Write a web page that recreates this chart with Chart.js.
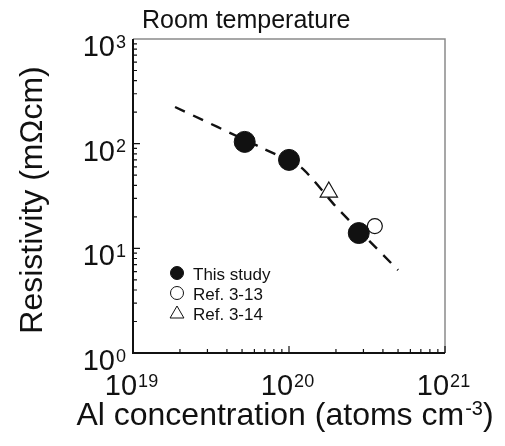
<!DOCTYPE html>
<html>
<head>
<meta charset="utf-8">
<script src="https://cdn.jsdelivr.net/npm/chart.js@4/dist/chart.umd.min.js"></script>
<style>
  html, body { margin: 0; padding: 0; background: #fff; }
  canvas { display: block; }
</style>
</head>
<body>
<canvas id="chart" width="505" height="446"></canvas>
<script>
// Resistivity vs Al concentration, room temperature
const studyX = [5.2e19, 1.0e20, 2.8e20];
const studyY = [104, 70, 14];
const ref13X = [3.55e20];
const ref13Y = [16.3];
const ref14X = [1.8e20];
const ref14Y = [34.5];
const fitX = [1.86e19, 6.5e19, 1.2e20, 2.0e20, 5.0e20];
const fitY = [224, 93, 59, 25, 6.2];

const xDecades = [19, 20, 21];
const yDecades = [0, 1, 2, 3];

const FONT = "'Liberation Sans', Arial, sans-serif";

function pts(xs, ys) {
  return xs.map((x, i) => ({ x, y: ys[i] }));
}

// superscript label: base "10" then exponent
function drawPow(ctx, exp, x, y, align, size, supSize) {
  ctx.font = `${size}px ${FONT}`;
  const wb = ctx.measureText("10").width;
  ctx.font = `${supSize}px ${FONT}`;
  const ws = ctx.measureText(String(exp)).width;
  let x0 = x;
  if (align === "center") x0 = x - (wb + ws) / 2;
  if (align === "right") x0 = x - (wb + ws);
  ctx.textAlign = "left";
  ctx.textBaseline = "alphabetic";
  ctx.font = `${size}px ${FONT}`;
  ctx.fillText("10", x0, y);
  ctx.font = `${supSize}px ${FONT}`;
  ctx.fillText(String(exp), x0 + wb + 1, y - size * 0.29);
}

const axesPlugin = {
  id: "axesPlugin",
  beforeDatasetsDraw(chart) {
    const { ctx, chartArea: a, scales } = chart;
    ctx.save();
    // top and right frame
    ctx.strokeStyle = "#8a8a8a";
    ctx.lineWidth = 1.5;
    ctx.beginPath();
    ctx.moveTo(a.left, a.top);
    ctx.lineTo(a.right, a.top);
    ctx.lineTo(a.right, a.bottom);
    ctx.stroke();
    // left and bottom axes
    ctx.strokeStyle = "#111";
    ctx.lineWidth = 2;
    ctx.beginPath();
    ctx.moveTo(a.left, a.top);
    ctx.lineTo(a.left, a.bottom);
    ctx.lineTo(a.right, a.bottom);
    ctx.stroke();

    // inward ticks
    ctx.lineWidth = 1.2;
    ctx.beginPath();
    xDecades.forEach(d => {
      for (let m = 1; m <= 9; m++) {
        const v = m * Math.pow(10, d);
        if (v > scales.x.max || v <= scales.x.min) continue;
        const px = scales.x.getPixelForValue(v);
        const len = m === 1 ? 7 : 4;
        ctx.moveTo(px, a.bottom);
        ctx.lineTo(px, a.bottom - len);
      }
    });
    yDecades.forEach(d => {
      for (let m = 1; m <= 9; m++) {
        const v = m * Math.pow(10, d);
        if (v >= scales.y.max || v <= scales.y.min) continue;
        const py = scales.y.getPixelForValue(v);
        const len = m === 1 ? 7 : 4;
        ctx.moveTo(a.left, py);
        ctx.lineTo(a.left + len, py);
      }
    });
    ctx.stroke();

    // tick labels
    ctx.fillStyle = "#111";
    xDecades.forEach(d => {
      const px = scales.x.getPixelForValue(Math.pow(10, d));
      drawPow(ctx, d, px - 2, 395, "center", 29, 18);
    });
    yDecades.forEach(d => {
      const py = scales.y.getPixelForValue(Math.pow(10, d));
      drawPow(ctx, d, a.left - 8, py + 17, "right", 29, 18);
    });

    // title
    ctx.font = `25px ${FONT}`;
    ctx.textAlign = "left";
    ctx.fillText("Room temperature", 142, 28);

    // x axis title with superscript
    const base = "Al concentration (atoms cm";
    ctx.font = `32px ${FONT}`;
    const w1 = ctx.measureText(base).width;
    const w3 = ctx.measureText(")").width;
    ctx.font = `20px ${FONT}`;
    const w2 = ctx.measureText("-3").width;
    let x0 = 285 - (w1 + w2 + w3 + 1) / 2;
    ctx.font = `32px ${FONT}`;
    ctx.fillText(base, x0, 425);
    ctx.font = `20px ${FONT}`;
    ctx.fillText("-3", x0 + w1 + 1, 415);
    ctx.font = `32px ${FONT}`;
    ctx.fillText(")", x0 + w1 + w2 + 1, 425);

    // y axis title
    ctx.translate(42, 200);
    ctx.rotate(-Math.PI / 2);
    ctx.textAlign = "center";
    ctx.font = `32px ${FONT}`;
    ctx.fillText("Resistivity (m\u03A9cm)", 0, 0);
    ctx.restore();
  },
  afterDatasetsDraw(chart) {
    const { ctx } = chart;
    ctx.save();
    const items = chart.data.datasets.filter(ds => ds.inLegend);
    items.forEach((ds, i) => {
      const cy = 273 + i * 20;
      ctx.fillStyle = ds.legendFill;
      ctx.strokeStyle = "#111";
      ctx.lineWidth = 1;
      Chart.helpers.drawPoint(ctx, {
        pointStyle: ds.pointStyle,
        radius: ds.pointStyle === "triangle" ? 8 : 6.5,
        rotation: 0,
        borderWidth: 1
      }, 177, ds.pointStyle === "triangle" ? cy + 1 : cy);
      ctx.fillStyle = "#111";
      ctx.font = `17px ${FONT}`;
      ctx.textAlign = "left";
      ctx.textBaseline = "alphabetic";
      ctx.fillText(ds.label, 193, cy + 7);
    });
    ctx.restore();
  }
};

new Chart(document.getElementById("chart"), {
  type: "scatter",
  data: {
    datasets: [
      {
        label: "This study",
        data: pts(studyX, studyY),
        pointStyle: "circle",
        pointRadius: 10.5,
        backgroundColor: "#111",
        borderColor: "#111",
        borderWidth: 1,
        inLegend: true,
        legendFill: "#111",
        order: 1
      },
      {
        label: "Ref. 3-13",
        data: pts(ref13X, ref13Y),
        pointStyle: "circle",
        pointRadius: 7.5,
        backgroundColor: "#fff",
        borderColor: "#111",
        borderWidth: 1.2,
        inLegend: true,
        legendFill: "#fff",
        order: 3
      },
      {
        label: "Ref. 3-14",
        data: pts(ref14X, ref14Y),
        pointStyle: "triangle",
        pointRadius: 10,
        backgroundColor: "#fff",
        borderColor: "#111",
        borderWidth: 1.2,
        inLegend: true,
        legendFill: "#fff",
        order: 2
      },
      {
        label: "fit",
        data: pts(fitX, fitY),
        showLine: true,
        pointRadius: 0,
        borderColor: "#111",
        borderWidth: 2.4,
        borderDash: [11, 9],
        tension: 0.2,
        order: 4
      }
    ]
  },
  options: {
    responsive: false,
    animation: false,
    layout: { padding: { left: 133, right: 60, top: 39, bottom: 93 } },
    plugins: { legend: { display: false }, tooltip: { enabled: false } },
    scales: {
      x: { type: "logarithmic", min: 1e19, max: 1e21, display: false },
      y: { type: "logarithmic", min: 1, max: 1000, display: false }
    }
  },
  plugins: [axesPlugin]
});
</script>
</body>
</html>
